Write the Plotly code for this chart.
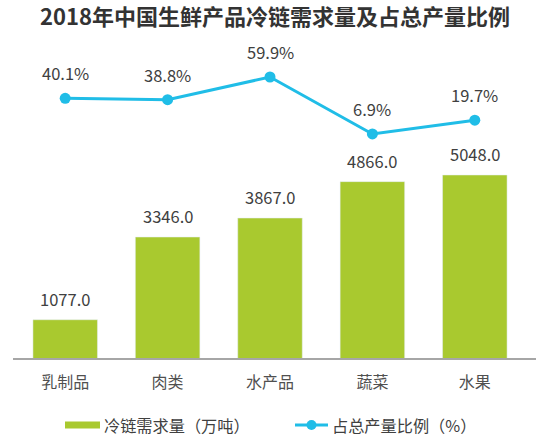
import plotly.graph_objects as go

categories = ["乳制品", "肉类", "水产品", "蔬菜", "水果"]
demand = [1077.0, 3346.0, 3867.0, 4866.0, 5048.0]
ratio = [40.1, 38.8, 59.9, 6.9, 19.7]

bar_name = "冷链需求量（万吨）"
line_name = "占总产量比例（%）"
title = "2018年中国生鲜产品冷链需求量及占总产量比例"

GREEN = "#A9C92F"
CYAN = "#20BDE7"
TXT = "#404040"
FONT = "Noto Sans CJK SC"

W, H = 536, 439
ML, MR, MT, MB = 14, 10, 40, 80
PW, PH = W - ML - MR, H - MT - MB


def px(xp):
    return (xp - ML) / PW


def py(yp):
    return (H - MB - yp) / PH


fig = go.Figure()
fig.add_trace(go.Bar(x=categories, y=demand, name=bar_name, marker_color=GREEN,
                     width=0.63, yaxis="y", showlegend=False))
fig.add_trace(go.Scatter(x=categories, y=ratio, name=line_name, mode="lines+markers",
                         line=dict(color=CYAN, width=3), marker=dict(size=11, color=CYAN),
                         yaxis="y2", showlegend=False))

annotations = []
for c, v in zip(categories, demand):
    annotations.append(dict(x=c, y=v, xref="x", yref="y", text=f"{v:.1f}", showarrow=False,
                            yshift=21, font=dict(size=16.5, color=TXT, family=FONT)))
for c, v in zip(categories, ratio):
    annotations.append(dict(x=c, y=v, xref="x", yref="y2", text=f"{v:.1f}%", showarrow=False,
                            yshift=25, font=dict(size=16.5, color=TXT, family=FONT)))

# title
annotations.append(dict(x=px(275), y=py(15), xref="paper", yref="paper", text=f"<b>{title}</b>",
                        showarrow=False, xanchor="center", yanchor="middle",
                        font=dict(size=22, color="#333333", family=FONT)))

# custom legend
LEG_Y = 425
annotations.append(dict(x=px(102), y=py(LEG_Y), xref="paper", yref="paper", text=bar_name,
                        showarrow=False, xanchor="left", yanchor="middle",
                        font=dict(size=16.2, color=TXT, family=FONT)))
annotations.append(dict(x=px(330), y=py(LEG_Y), xref="paper", yref="paper", text=line_name,
                        showarrow=False, xanchor="left", yanchor="middle",
                        font=dict(size=16.2, color=TXT, family=FONT)))

shapes = [
    # x axis line
    dict(type="line", xref="paper", yref="paper", x0=px(13), x1=px(536), y0=0, y1=0,
         line=dict(color="#A6A6A6", width=2)),
    # legend symbols
    dict(type="rect", xref="paper", yref="paper", x0=px(65), x1=px(100),
         y0=py(428.5), y1=py(421.5), fillcolor=GREEN, line=dict(width=0)),
    dict(type="line", xref="paper", yref="paper", x0=px(295), x1=px(328),
         y0=py(LEG_Y), y1=py(LEG_Y), line=dict(color=CYAN, width=3)),
    dict(type="circle", xref="paper", yref="paper", x0=px(306.5), x1=px(316.5),
         y0=py(430), y1=py(420), fillcolor=CYAN, line=dict(width=0)),
]

fig.update_layout(
    width=W, height=H,
    margin=dict(l=ML, r=MR, t=MT, b=MB),
    plot_bgcolor="white", paper_bgcolor="white",
    font=dict(family=FONT, color=TXT),
    xaxis=dict(showline=False, ticks="", ticklabelstandoff=12,
               tickfont=dict(size=16, color="#505050", family=FONT), showgrid=False),
    yaxis=dict(range=[0, 8752], visible=False, showgrid=False),
    yaxis2=dict(range=[-202.4, 94.3], overlaying="y", visible=False, showgrid=False),
    showlegend=False,
    annotations=annotations,
    shapes=shapes,
)

fig.write_html("out.html", config={"displayModeBar": False},
               post_script="document.body.style.margin='0px';")
